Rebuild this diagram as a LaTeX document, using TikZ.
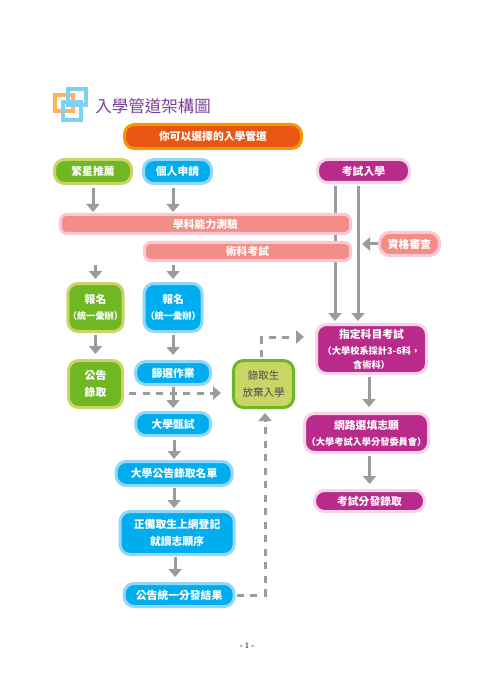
\documentclass[tikz,border=0pt]{standalone}
\usepackage{fontspec}
\usepackage{xcolor}
\usetikzlibrary{positioning, arrows.meta, backgrounds}
\newfontfamily\cjk{Noto Sans CJK TC}
\newfontfamily\pagefont{Liberation Serif}
\definecolor{orangefill}{HTML}{E95513}
\definecolor{orangeline}{HTML}{F39800}
\definecolor{iconorange}{HTML}{FBB45C}
\definecolor{iconblue}{HTML}{7FD0F2}
\definecolor{greenfill}{HTML}{6FB824}
\definecolor{greenline}{HTML}{CBD566}
\definecolor{bluefill}{HTML}{00AEEF}
\definecolor{blueline}{HTML}{93D6F6}
\definecolor{magentafill}{HTML}{B92B8B}
\definecolor{magentaline}{HTML}{F6D3E8}
\definecolor{salmonfill}{HTML}{F28E85}
\definecolor{salmonline}{HTML}{F9C8D8}
\definecolor{titlepurple}{HTML}{7A3F96}
\definecolor{flowgray}{HTML}{9B9B9B}

\begin{document}
\begin{tikzpicture}[
        x=1pt, y=1pt,
        box/.style={rectangle, line width=3pt, rounded corners=10pt, align=center, text=white,
                    font=\cjk\bfseries\fontsize{10.8}{17}\selectfont, inner sep=0pt},
        orangebox/.style={box, draw=orangeline, fill=orangefill},
        greenbox/.style={box, draw=greenline, fill=greenfill},
        bluebox/.style={box, draw=blueline, fill=bluefill},
        magentabox/.style={box, draw=magentaline, fill=magentafill},
        salmonbox/.style={box, draw=salmonline, fill=salmonfill, rounded corners=6pt},
        iconbox/.style={rectangle, line width=4pt, fill=none, inner sep=0pt},
        arrow/.style={-{Triangle[width=13pt,length=8pt]}, line width=3pt, flowgray},
        dasharrow/.style={arrow, dash pattern=on 7pt off 6.5pt}
      ]
        \useasboundingbox (0,0) rectangle (495,-700);

        % title
        \node[iconbox, draw=iconorange, minimum width=18pt, minimum height=16pt] (iconleft) at (64,-103) {};
        \node[iconbox, draw=iconblue, minimum width=18pt, minimum height=16pt] (icontop) at (77,-97) {};
        \node[iconbox, draw=iconblue, minimum width=18pt, minimum height=18pt] (iconlow) at (72,-111) {};
        \node[text=titlepurple, font=\cjk\fontsize{16.5}{20}\selectfont, inner sep=0pt] (title) at (153,-106) {入學管道架構圖};

        % top rows
        \node[orangebox, minimum width=177pt, minimum height=24pt] (choice) at (213,-136.5) {你可以選擇的入學管道};
        \node[greenbox, minimum width=77pt, minimum height=24pt] (star) at (93,-171.5) {繁星推薦};
        \node[bluebox, minimum width=68pt, minimum height=24pt, right=9pt of star] (apply) {個人申請};
        \node[magentabox, minimum width=92pt, minimum height=23pt] (exam) at (363.5,-171) {考試入學};
        \node[salmonbox, minimum width=290pt, minimum height=19pt] (subject) at (205.5,-224) {學科能力測驗};
        \node[salmonbox, minimum width=206pt, minimum height=18pt, below left=6pt and 0pt of subject.south east] (art) {術科考試};
        \node[salmonbox, rounded corners=10pt, minimum width=60pt, minimum height=23pt] (qual) at (409.5,-244) {資格審查};
        \coordinate[left=16pt of qual] (qualtip);

        % left columns
        \node[greenbox, minimum width=54pt, minimum height=48pt] (enrollgreen) at (95.5,-307.5) {報名\\[-1pt]{\fontsize{9.2}{14}\selectfont（統一彙辦）}};
        \node[bluebox, minimum width=58pt, minimum height=48pt, right=18pt of enrollgreen] (enrollblue) {報名\\[-1pt]{\fontsize{9.2}{14}\selectfont（統一彙辦）}};
        \node[greenbox, minimum width=54pt, minimum height=47pt, below=26pt of enrollgreen] (notice) {公告\\錄取};
        \node[bluebox, minimum width=75pt, minimum height=23pt, below=27pt of enrollblue] (screen) {篩選作業};
        \node[bluebox, minimum width=75pt, minimum height=23pt, below=25pt of screen] (interview) {大學甄試};
        \node[bluebox, minimum width=116pt, minimum height=24pt, below=23pt of interview, xshift=1pt] (list) {大學公告錄取名單};
        \node[bluebox, minimum width=114pt, minimum height=43pt, below=23pt of list, xshift=3pt] (rank) {正備取生上網登記\\就讀志願序};
        \node[bluebox, minimum width=110pt, minimum height=23pt, below=26pt of rank, xshift=2pt] (result) {公告統一分發結果};
        \node[box, draw=greenfill, fill=greenline, text=black!70, font=\cjk\fontsize{10.5}{17}\selectfont,
              minimum width=60pt, minimum height=47pt] (giveup) at (263.5,-384) {錄取生\\放棄入學};

        % right column
        \node[magentabox, minimum width=110pt, minimum height=49pt] (elective) at (371.5,-349) {指定科目考試\\[-1pt]{\fontsize{9.2}{14}\selectfont（大學校系採計3-6科，}\\[-3pt]{\fontsize{9.2}{14}\selectfont 含術科）}};
        \node[magentabox, minimum width=124pt, minimum height=39pt] (online) at (366.5,-433) {網路選填志願\\[-1pt]{\fontsize{9.2}{14}\selectfont（大學考試入學分發委員會）}};
        \node[magentabox, minimum width=110pt, minimum height=21pt] (assign) at (369.5,-501) {考試分發錄取};

        \node[font=\pagefont\fontsize{8.5}{10}\selectfont, inner sep=0pt] (pagenum) at (247,-646) {- 1 -};

        \begin{pgfonlayer}{background}
          \draw[arrow, shorten <=2pt, shorten >=2pt] ([xshift=-28.5pt]exam.south) -- ([xshift=-28.5pt]exam.south |- elective.north);
        \end{pgfonlayer}
        \draw[arrow, shorten <=2pt, shorten >=2pt] ([xshift=-5.5pt]exam.south) -- ([xshift=-5.5pt]exam.south |- elective.north);
        \draw[arrow, shorten <=3pt, shorten >=1pt] (star.south) -- (star.south |- subject.north);
        \draw[arrow, shorten <=3pt, shorten >=1pt] (enrollblue.north |- apply.south) -- (enrollblue.north |- subject.north);
        \draw[arrow, shorten <=3pt, shorten >=3pt] (enrollgreen.north |- art.south) -- (enrollgreen.north);
        \draw[arrow, shorten <=3pt, shorten >=3pt] (enrollblue.north |- art.south) -- (enrollblue.north);
        \draw[arrow] (qual.west) -- (qualtip);
        \draw[arrow, shorten <=2pt, shorten >=5pt] (enrollgreen) -- (notice);
        \draw[arrow, shorten <=2pt, shorten >=5pt] (enrollblue) -- (screen);
        \draw[arrow, shorten <=1pt, shorten >=3pt] (screen) -- (interview);
        \draw[arrow, shorten <=3pt, shorten >=1pt] (list.north |- interview.south) -- (list.north);
        \draw[arrow, shorten <=1pt, shorten >=2pt] (list.south) -- (list.south |- rank.north);
        \draw[arrow, shorten <=1pt, shorten >=5pt] ([xshift=-2pt]rank.south) -- ([xshift=-2pt]rank.south |- result.north);
        \draw[arrow, shorten <=2pt, shorten >=5pt] ([xshift=-2.5pt]elective.south) -- ([xshift=-2.5pt]elective.south |- online.north);
        \draw[arrow, shorten <=2pt, shorten >=5pt] (assign.north |- online.south) -- (assign.north);

        \draw[dasharrow, shorten <=5pt, shorten >=11pt] ([yshift=-9pt]notice.east) -- ([yshift=-9pt]notice.east -| giveup.west);
        \draw[dasharrow, shorten <=2pt, shorten >=11pt] ([xshift=-2pt]giveup.north) |- ([yshift=12pt]elective.west);
        \draw[dasharrow, shorten <=1pt, shorten >=4pt] (result.east) -| ([xshift=1.5pt]giveup.south);
      \end{tikzpicture}
\end{document}
